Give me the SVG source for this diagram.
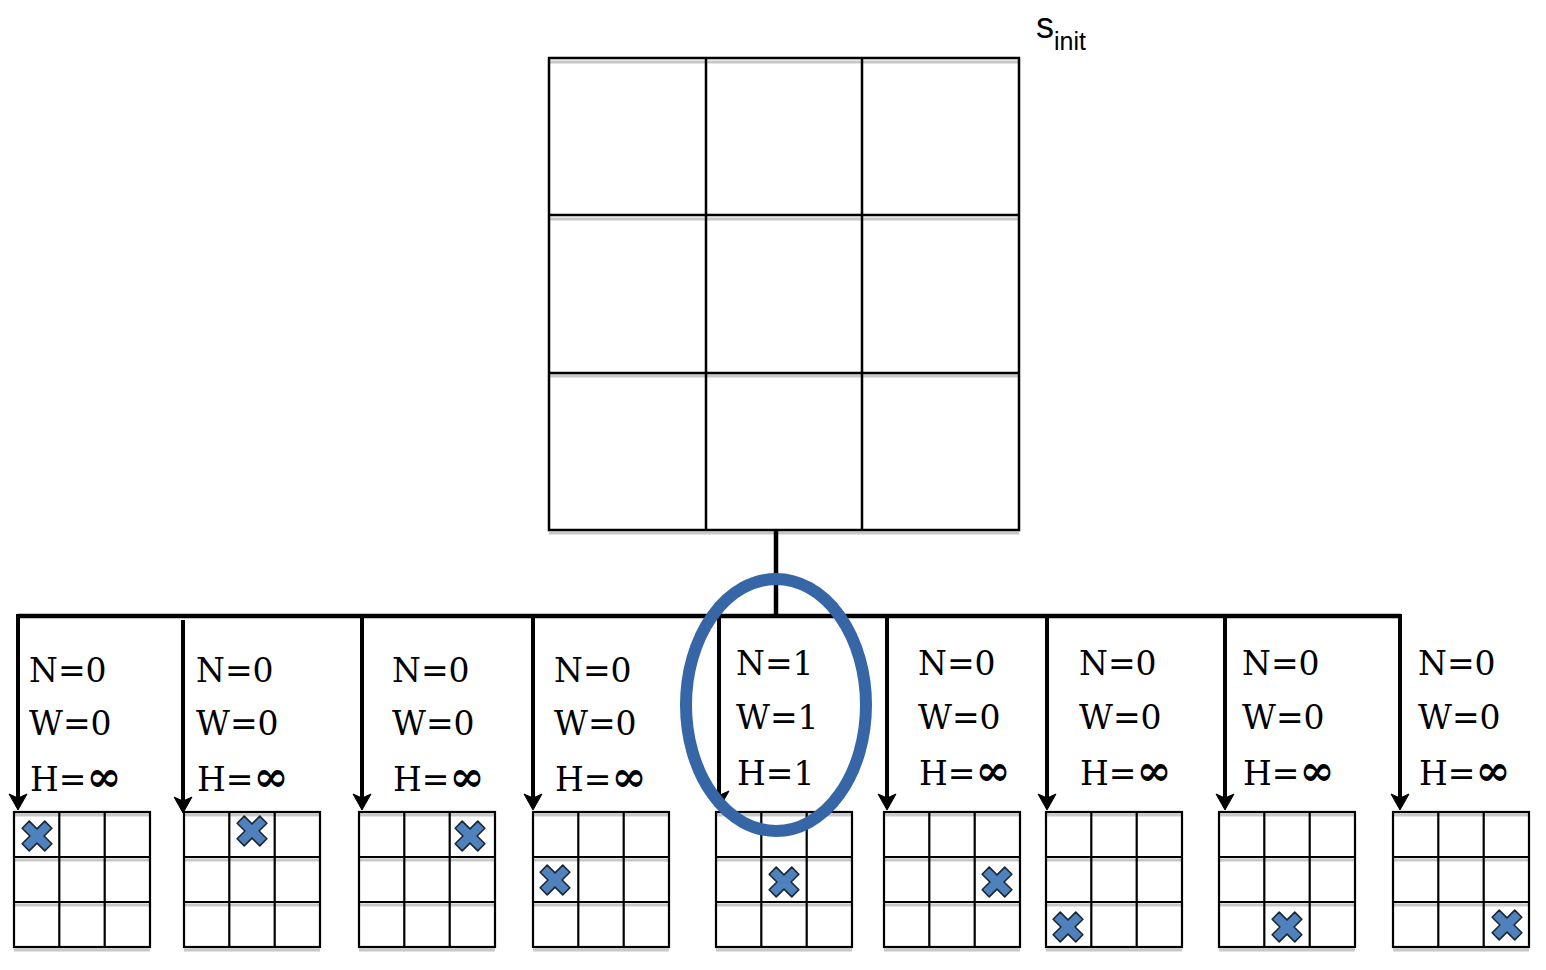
<svg xmlns="http://www.w3.org/2000/svg" xmlns:xlink="http://www.w3.org/1999/xlink" width="1546" height="970" viewBox="0 0 1546 970">
<style>
.g{stroke:#000;stroke-width:2.5;fill:none}
.sh{stroke:#c8c8c8;stroke-width:3;fill:none}
.gs{stroke:#000;stroke-width:2.2;fill:none}
.c{stroke:#000;stroke-width:4.5;fill:none}
.d{stroke:#000;stroke-width:4;fill:none}
.t{font-family:"DejaVu Serif","Liberation Serif",serif;font-size:33px;fill:#000}
.inf{font-weight:bold;font-size:42px}
.xm{fill:#4f81bd;stroke:#1b2733;stroke-width:1.6;stroke-linejoin:round}
.ah{fill:#000;stroke:#000;stroke-width:1;stroke-linejoin:round}
</style>
<defs>
<path id="ah" class="ah" d="M-9,-16 L0,-12 L9,-16 L0,0 Z"/>
<path id="x" class="xm" transform="rotate(45)" d="M-5,-16 L5,-16 L5,-5 L16,-5 L16,5 L5,5 L5,16 L-5,16 L-5,5 L-16,5 L-16,-5 L-5,-5 Z"/>
<g id="sb">
<path class="sh" d="M0,3 H136 M0,48 H136 M0,93 H136 M0,138 H136"/>
<rect class="gs" x="0" y="0" width="136" height="135"/>
<path class="gs" d="M45.3,0 V135 M90.7,0 V135 M0,45 H136 M0,90 H136"/>
</g>
</defs>

<g id="root">
<path class="sh" d="M549,62 H1019 M549,219 H1019 M549,376 H1019 M549,533 H1019"/>
<rect class="g" x="549" y="58" width="470" height="472"/>
<path class="g" d="M706,58 V530 M862,58 V530 M549,215 H1019 M549,373 H1019"/>
<text x="1036" y="38" font-family="'Liberation Sans','Open Sans',sans-serif" font-size="36">s<tspan font-size="25" dy="12">init</tspan></text>
</g>

<g id="connectors">
<path class="c" d="M776,530 V616"/>
<path class="c" d="M18,616 H1401"/>
<path class="d" d="M18,614 V798"/><use xlink:href="#ah" x="18" y="810"/>
<path class="d" d="M183,620 V801"/><use xlink:href="#ah" x="183" y="813"/>
<path class="d" d="M362,616 V798"/><use xlink:href="#ah" x="362" y="810"/>
<path class="d" d="M533,616 V798"/><use xlink:href="#ah" x="533" y="810"/>
<path class="d" d="M719,616 V795"/><use xlink:href="#ah" x="720" y="807"/>
<path class="d" d="M887,616 V798"/><use xlink:href="#ah" x="887" y="810"/>
<path class="d" d="M1047,616 V798"/><use xlink:href="#ah" x="1047" y="810"/>
<path class="d" d="M1225,616 V798"/><use xlink:href="#ah" x="1225" y="810"/>
<path class="d" d="M1400,614 V798"/><use xlink:href="#ah" x="1400" y="810"/>
</g>

<g id="child1">
<use xlink:href="#sb" x="14" y="812"/>
<use xlink:href="#x" x="37" y="836"/>
<text class="t" x="29" y="682">N=0</text>
<text class="t" x="29" y="735">W=0</text>
<text class="t" x="30" y="791">H=<tspan class="inf">∞</tspan></text>
</g>
<g id="child2">
<use xlink:href="#sb" x="184" y="812"/>
<use xlink:href="#x" x="252" y="831"/>
<text class="t" x="196" y="682">N=0</text>
<text class="t" x="196" y="735">W=0</text>
<text class="t" x="197" y="791">H=<tspan class="inf">∞</tspan></text>
</g>
<g id="child3">
<use xlink:href="#sb" x="359" y="812"/>
<use xlink:href="#x" x="470" y="836"/>
<text class="t" x="392" y="682">N=0</text>
<text class="t" x="392" y="735">W=0</text>
<text class="t" x="393" y="791">H=<tspan class="inf">∞</tspan></text>
</g>
<g id="child4">
<use xlink:href="#sb" x="533" y="812"/>
<use xlink:href="#x" x="555" y="880"/>
<text class="t" x="554" y="682">N=0</text>
<text class="t" x="554" y="735">W=0</text>
<text class="t" x="555" y="791">H=<tspan class="inf">∞</tspan></text>
</g>
<g id="child5">
<use xlink:href="#sb" x="716" y="812"/>
<use xlink:href="#x" x="784" y="882"/>
<text class="t" x="736" y="675">N=1</text>
<text class="t" x="736" y="729">W=1</text>
<text class="t" x="737" y="785">H=1</text>
</g>
<g id="child6">
<use xlink:href="#sb" x="884" y="812"/>
<use xlink:href="#x" x="997" y="882"/>
<text class="t" x="918" y="675">N=0</text>
<text class="t" x="918" y="729">W=0</text>
<text class="t" x="919" y="785">H=<tspan class="inf">∞</tspan></text>
</g>
<g id="child7">
<use xlink:href="#sb" x="1046" y="812"/>
<use xlink:href="#x" x="1068" y="927"/>
<text class="t" x="1079" y="675">N=0</text>
<text class="t" x="1079" y="729">W=0</text>
<text class="t" x="1080" y="785">H=<tspan class="inf">∞</tspan></text>
</g>
<g id="child8">
<use xlink:href="#sb" x="1219" y="812"/>
<use xlink:href="#x" x="1287" y="927"/>
<text class="t" x="1242" y="675">N=0</text>
<text class="t" x="1242" y="729">W=0</text>
<text class="t" x="1243" y="785">H=<tspan class="inf">∞</tspan></text>
</g>
<g id="child9">
<use xlink:href="#sb" x="1393" y="812"/>
<use xlink:href="#x" x="1507" y="925"/>
<text class="t" x="1418" y="675">N=0</text>
<text class="t" x="1418" y="729">W=0</text>
<text class="t" x="1419" y="785">H=<tspan class="inf">∞</tspan></text>
</g>

<g id="highlight">
<ellipse cx="776" cy="705" rx="90" ry="126" fill="none" stroke="#3766a6" stroke-width="12"/>
</g>
</svg>
